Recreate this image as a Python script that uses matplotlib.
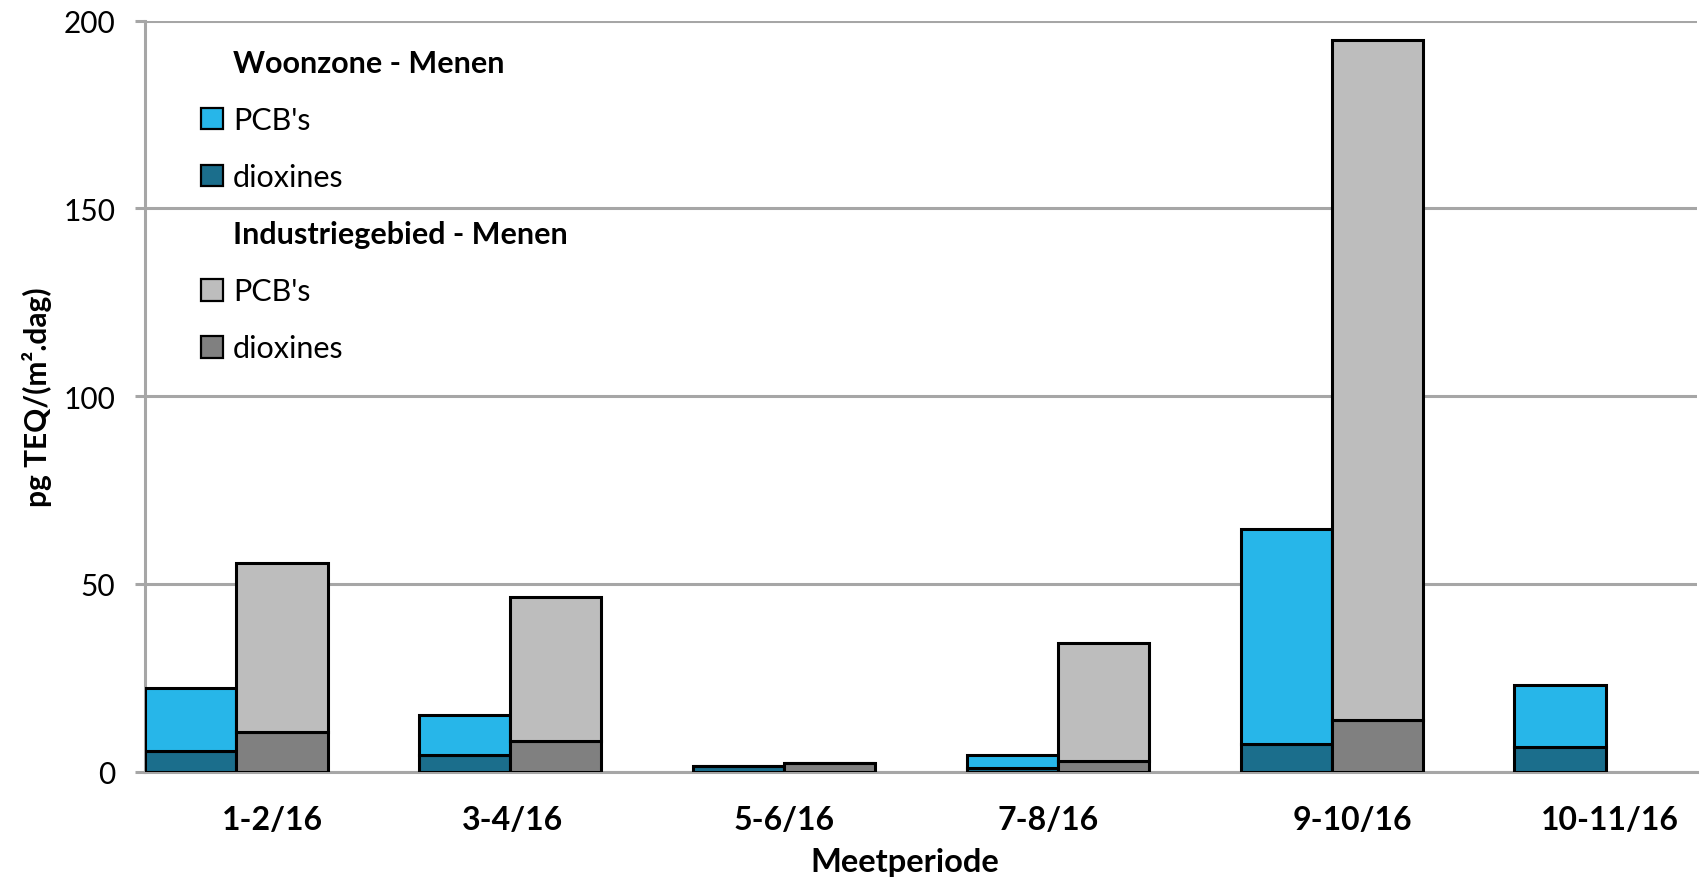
"""
Depositie dioxines en PCB's — Menen 2016
Gestapelde staven per meetperiode voor woonzone en industriegebied.
"""

import numpy as np
import matplotlib.pyplot as plt
import matplotlib.patches as mpatches

plt.rcParams["font.family"] = ["Lato", "DejaVu Sans"]

# ── Data (pg TEQ/(m².dag)) ────────────────────────────────────────────────────
periods = ["1-2/16", "3-4/16", "5-6/16", "7-8/16", "9-10/16", "10-11/16"]

woon_dioxines = [5.6, 4.5, 1.5, 1.0, 7.4, 6.5]
woon_pcbs     = [16.7, 10.6, 0.1, 3.5, 57.2, 16.7]
ind_dioxines  = [10.7, 8.1, 2.3, 2.8, 13.9, np.nan]
ind_pcbs      = [45.0, 38.3, 0.1, 31.6, 180.9, np.nan]

# ── Layout: 3 slots per period (woonzone, industrie, spacer), last spacer cut ─
n = len(periods)
slot = np.arange(n) * 3
x_woon = slot + 0.5
x_ind = slot + 1.5
label_x = [1.40, 4.03, 7.00, 9.89, 13.22, 16.05]
BAR_W = 1.0

C_BLUE   = "#27B6E9"
C_TEAL   = "#1B6E8C"
C_LGREY  = "#BDBDBD"
C_DGREY  = "#808080"
C_GRID   = "#A6A6A6"
EDGE     = dict(edgecolor="black", linewidth=2.2)

fig = plt.figure(figsize=(17.02, 8.78), dpi=100)
ax = fig.add_axes([0.0852, 0.1199, 0.9119, 0.8554])

ax.bar(x_woon, woon_dioxines, BAR_W, color=C_TEAL, zorder=3, **EDGE)
ax.bar(x_woon, woon_pcbs, BAR_W, bottom=woon_dioxines, color=C_BLUE,
       zorder=3, **EDGE)
ax.bar(x_ind, ind_dioxines, BAR_W, color=C_DGREY, zorder=3, **EDGE)
ax.bar(x_ind, ind_pcbs, BAR_W, bottom=ind_dioxines, color=C_LGREY,
       zorder=3, **EDGE)

# ── Axes styling ──────────────────────────────────────────────────────────────
ax.set_xlim(0, 3 * n - 1)
ax.set_ylim(0, 200)
ax.set_yticks([0, 50, 100, 150, 200])
ax.yaxis.grid(True, color=C_GRID, linewidth=2.2, zorder=0)
ax.set_axisbelow(True)
for s in ["top", "right"]:
    ax.spines[s].set_visible(False)
for s in ["left", "bottom"]:
    ax.spines[s].set_color(C_GRID)
    ax.spines[s].set_linewidth(2.2)

ax.tick_params(axis="y", length=7.5, width=2.2, color=C_GRID,
               labelsize=21.5, pad=14)
ax.set_xticks(label_x)
ax.set_xticklabels(periods, fontsize=23, fontweight="bold")
ax.tick_params(axis="x", length=0, pad=24)

ax.set_xlabel("Meetperiode", fontsize=23.5, fontweight="bold")
ax.xaxis.set_label_coords(0.4895, -0.100)
ax.set_ylabel("pg TEQ/(m².dag)", fontsize=21.5, fontweight="bold")
ax.yaxis.set_label_coords(-0.0600, 0.5)

# ── Legend with group headers ─────────────────────────────────────────────────
blank = mpatches.Patch(visible=False)
handles = [
    blank,
    mpatches.Patch(facecolor=C_BLUE, edgecolor="black", linewidth=1.6),
    mpatches.Patch(facecolor=C_TEAL, edgecolor="black", linewidth=1.6),
    blank,
    mpatches.Patch(facecolor=C_LGREY, edgecolor="black", linewidth=1.6),
    mpatches.Patch(facecolor=C_DGREY, edgecolor="black", linewidth=1.6),
]
labels = ["Woonzone - Menen", "PCB's", "dioxines",
          "Industriegebied - Menen", "PCB's", "dioxines"]
leg = ax.legend(handles, labels, loc="upper left",
                bbox_to_anchor=(0.0359, 0.962), frameon=False,
                fontsize=22, borderpad=0, borderaxespad=0,
                handlelength=0.72, handleheight=0.72,
                handletextpad=0.33, labelspacing=0.95)
for i in (0, 3):
    leg.get_texts()[i].set_fontweight("bold")

fig.savefig("out.png", dpi=100)
